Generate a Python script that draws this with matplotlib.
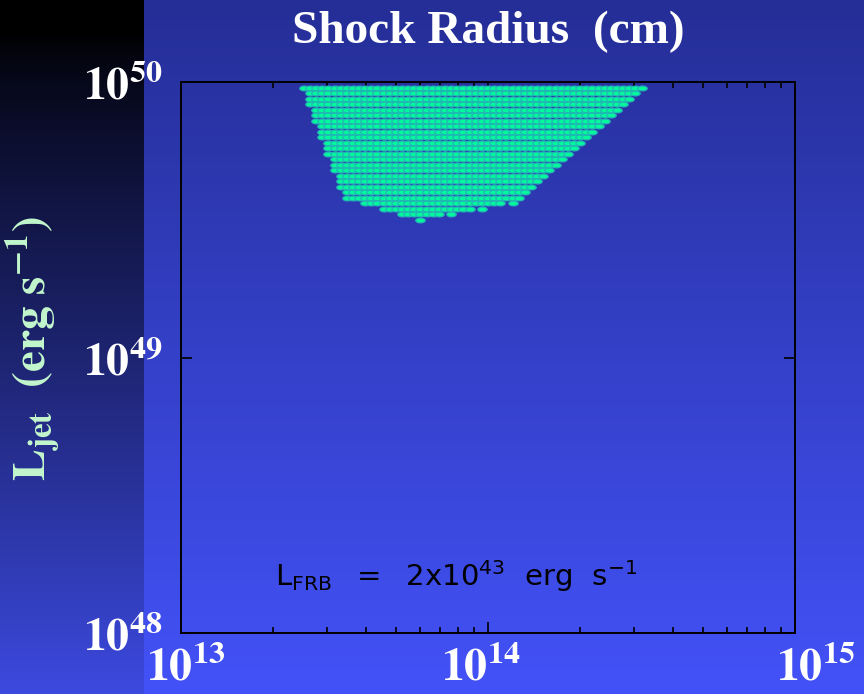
import numpy as np
import matplotlib
matplotlib.use('Agg')
import matplotlib.pyplot as plt
import matplotlib.transforms as mtransforms
from matplotlib.path import Path
from matplotlib.ticker import FixedLocator, LogLocator, NullLocator, FuncFormatter

plt.rcParams['mathtext.fontset'] = 'stix'

# log10 of jet luminosity for each row of models
row_logL = [49.98, 49.96, 49.94, 49.92, 49.90, 49.88, 49.86, 49.84, 49.82, 49.80,
            49.78, 49.76, 49.74, 49.72, 49.70, 49.68, 49.66, 49.64, 49.62, 49.60,
            49.58, 49.56, 49.54, 49.52, 49.50]
# first / last log10 shock radius in each row
row_lo = [13.40, 13.42, 13.42, 13.42, 13.44, 13.44, 13.44, 13.46, 13.46, 13.46,
          13.48, 13.48, 13.48, 13.50, 13.50, 13.50, 13.52, 13.52, 13.52, 13.54,
          13.54, 13.60, 13.66, 13.72, 13.78]
row_hi = [14.50, 14.48, 14.46, 14.44, 14.42, 14.40, 14.38, 14.36, 14.34, 14.32,
          14.30, 14.28, 14.26, 14.24, 14.22, 14.20, 14.18, 14.16, 14.14, 14.12,
          14.10, 14.08, 13.98, 13.88, 13.78]
# missing models (logL, logR)
holes = [(49.56, 14.06), (49.54, 13.96), (49.52, 13.86)]
grid_step = 0.02

x_ticks = [1e13, 1e14, 1e15]
y_ticks = [1e48, 1e49, 1e50]
title = 'Shock Radius  (cm)'
note = r'$\mathregular{L_{FRB}\ \ =\ \ 2x10^{43}\ \ erg\ \ s^{-1}}$'

W, H = 864, 694
fig = plt.figure(figsize=(W / 100, H / 100), dpi=100)

# background gradient
yy = np.linspace(0, 1, H)[:, None]
top = np.array([37, 46, 150]) / 255.0
bot = np.array([67, 82, 248]) / 255.0
col = top + (bot - top) * yy
img = np.repeat(col[:, None, :], W, axis=1)
f = 0.9 * np.clip((yy - 0.05) / 0.95, 0, 1) ** 0.65
img[:, :144, :] = col[:, None, :] * f[:, None, :]
bg = fig.add_axes([0, 0, 1, 1], zorder=0)
bg.imshow(img, aspect='auto', extent=[0, 1, 0, 1])
bg.axis('off')

ax = fig.add_axes([181 / W, 1 - 633 / H, 614 / W, 551 / H], zorder=1)
ax.set_facecolor('none')

xs, ys = [], []
for L, lo, hi in zip(row_logL, row_lo, row_hi):
    n = int(round((hi - lo) / grid_step)) + 1
    for k in range(n):
        r = round(lo + k * grid_step, 2)
        if (L, r) in holes:
            continue
        xs.append(10 ** r)
        ys.append(10 ** L)

t = np.linspace(0, 2 * np.pi, 60)
ell = Path(np.column_stack([np.cos(t), 0.5 * np.sin(t)]), closed=True)
ax.scatter(xs, ys, marker=ell, s=46, facecolor='#00fa9c', edgecolor='#22b8b4',
           linewidths=0.9, zorder=2)

ax.set_xscale('log')
ax.set_yscale('log')
ax.set_xlim(1e13, 1e15)
ax.set_ylim(1e48, 1e50)

fmt = FuncFormatter(lambda v, p: r'$\mathbf{10^{%d}}$' % round(np.log10(v)))
ax.xaxis.set_major_locator(FixedLocator(x_ticks))
ax.yaxis.set_major_locator(FixedLocator(y_ticks))
ax.xaxis.set_minor_locator(LogLocator(base=10, subs=np.arange(2, 10)))
ax.yaxis.set_minor_locator(NullLocator())
ax.xaxis.set_minor_formatter(FuncFormatter(lambda v, p: ''))
ax.xaxis.set_major_formatter(fmt)
ax.yaxis.set_major_formatter(fmt)

ax.tick_params(which='both', direction='in', top=True, right=True, color='black',
               labelcolor='white', labelsize=33, width=1.2)
ax.tick_params(which='major', length=8)
ax.tick_params(which='minor', length=4)
ax.tick_params(axis='y', pad=13)
ax.tick_params(axis='x', pad=9)
for s in ax.spines.values():
    s.set_linewidth(1.4)
    s.set_color('black')

# nudge x labels like the original layout
shifts = [5, -7, 21]
for tick, dx in zip(ax.xaxis.get_major_ticks(), shifts):
    off = mtransforms.ScaledTranslation(dx / 100, 0, fig.dpi_scale_trans)
    tick.label1.set_transform(tick.label1.get_transform() + off)

ax.set_title(title, color='white', fontsize=34, fontweight='bold',
             family='Liberation Serif', pad=28)

fig.text(33 / W, 1 - 349 / H, r'$\mathbf{L_{jet}\ \ (erg\ s^{-1})}$', rotation=90,
         ha='center', va='center', color='#c3f7cc', fontsize=34)

ax.text(0.153, 0.086, note, transform=ax.transAxes, fontsize=21, color='black',
        math_fontfamily='dejavusans', ha='left', va='baseline')

fig.savefig('out.png', dpi=100)
